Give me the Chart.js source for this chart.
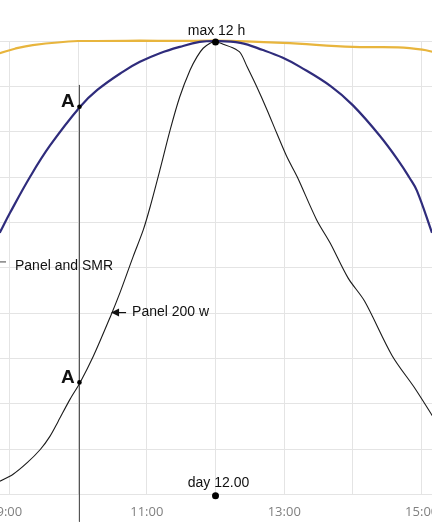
<!DOCTYPE html>
<html>
<head>
<meta charset="utf-8">
<script src="https://cdn.jsdelivr.net/npm/chart.js@4.4.1/dist/chart.umd.min.js"></script>
<style>
  html, body { margin: 0; padding: 0; background: #fff; }
  canvas { display: block; }
</style>
</head>
<body>
<canvas id="sun_chart" width="432" height="530"></canvas>
<script>
// hours of the day (decimal) and relative level
const sunHours = [8.86, 9.08, 9.34, 10.0, 10.9, 11.96, 12.98, 14.0, 14.66, 15.01, 15.19];
const sunLevel = [97.3, 98.3, 99.1, 100, 100.1, 100.1, 99.6, 98.7, 98.6, 98.1, 97.5];

const smrHours = [8.86, 9.01, 9.30, 9.59, 10.03, 10.28, 10.65, 10.90, 11.19, 11.48, 11.77, 11.99, 12.36, 12.69, 12.98, 13.23, 13.68, 14.0, 14.39, 14.68, 14.82, 14.93, 15.15];
const smrLevel = [57.7, 62.1, 70.0, 76.9, 85.5, 89.2, 93.2, 95.4, 97.3, 98.7, 99.8, 100, 99.6, 98.0, 96.3, 94.3, 90.0, 85.8, 79.1, 73.2, 69.9, 67.0, 57.7];

const panelHours = [8.86, 9.05, 9.26, 9.45, 9.59, 9.71, 9.88, 10.03, 10.22, 10.47, 10.61, 10.80, 10.95, 11.05, 11.19, 11.34, 11.48, 11.63, 11.73, 11.82, 11.92, 11.99, 12.11, 12.25, 12.36, 12.46, 12.60, 12.75, 12.89, 13.04, 13.19, 13.47, 13.67, 13.93, 14.17, 14.57, 14.91, 15.19];
const panelLevel = [2.9, 4.4, 7.0, 9.9, 12.8, 16.1, 20.9, 24.7, 30.4, 39.2, 44.5, 52.4, 58.4, 63.5, 71.5, 80.4, 87.7, 93.6, 96.5, 98.4, 99.5, 99.9, 99.3, 98.5, 97.4, 94.3, 89.9, 84.8, 79.7, 74.4, 70.0, 60.6, 55.4, 47.7, 42.6, 30.6, 23.2, 16.5];

// marker A (10:00) and noon marks
const aHour = 10.02;
const aLevels = [85.5, 24.7];
const aLineLevels = [90.3, -6.0];
const noonHours = [12, 12];
const noonLevels = [99.8, -0.3];
const arrowPoint = [10.48, 40.1];

const hourTicks = [9, 10, 11, 12, 13, 14, 15];
const hourLabels = [9, 11, 13, 15];

function pts(xs, ys) {
    return xs.map((v, i) => ({x: v, y: ys[i]}));
}

const notes = {
    id: 'notes',
    afterDatasetsDraw(chart) {
        const ctx = chart.ctx;
        const x = chart.scales.x, y = chart.scales.y;
        ctx.save();
        ctx.fillStyle = '#111';
        ctx.textBaseline = 'alphabetic';

        ctx.font = '14px "Liberation Sans", Arial, sans-serif';
        ctx.textAlign = 'center';
        ctx.fillText('max 12 h', x.getPixelForValue(12) + 1, y.getPixelForValue(100) - 6);
        ctx.fillText('day 12.00', x.getPixelForValue(12) + 3, y.getPixelForValue(0) - 7.5);

        ctx.font = 'bold 19px "Liberation Sans", Arial, sans-serif';
        ctx.fillText('A', x.getPixelForValue(aHour) - 11.5, y.getPixelForValue(aLevels[0]));
        ctx.fillText('A', x.getPixelForValue(aHour) - 11.5, y.getPixelForValue(aLevels[1]) + 1);

        // Panel and SMR label with its short leader
        ctx.font = '14px "Liberation Sans", Arial, sans-serif';
        ctx.textAlign = 'left';
        const ly = y.getPixelForValue(50.5);
        ctx.fillText('Panel and SMR', 15, ly + 5);
        ctx.strokeStyle = '#444';
        ctx.lineWidth = 1;
        ctx.beginPath();
        ctx.moveTo(0, ly - 3.5);
        ctx.lineTo(6, ly - 3.5);
        ctx.stroke();

        // arrow to the panel curve
        const tx = x.getPixelForValue(arrowPoint[0]);
        const ty = y.getPixelForValue(arrowPoint[1]);
        ctx.beginPath();
        ctx.moveTo(tx, ty);
        ctx.lineTo(tx + 8, ty - 4);
        ctx.lineTo(tx + 8, ty + 4);
        ctx.closePath();
        ctx.fill();
        ctx.lineWidth = 1.2;
        ctx.strokeStyle = '#111';
        ctx.beginPath();
        ctx.moveTo(tx + 7, ty);
        ctx.lineTo(tx + 15, ty);
        ctx.stroke();
        ctx.fillText('Panel 200 w', tx + 21, ty + 3);
        ctx.restore();
    }
};

const ctx = document.getElementById('sun_chart');
const theChart = new Chart(ctx, {
    type: 'line',
    data: {
        datasets: [
            {
                label: 'noon',
                data: pts(noonHours, noonLevels),
                showLine: false,
                pointRadius: 3.5,
                pointBackgroundColor: '#000',
                pointBorderWidth: 0,
                clip: false
            },
            {
                label: 'A points',
                data: pts([aHour, aHour], aLevels),
                showLine: false,
                pointRadius: 2.3,
                pointBackgroundColor: '#000',
                pointBorderWidth: 0,
                clip: false
            },
            {
                label: 'A line',
                data: pts([aHour, aHour], aLineLevels),
                borderColor: '#555',
                borderWidth: 1,
                pointRadius: 0,
                clip: false
            },
            {
                label: 'Panel 200 w',
                data: pts(panelHours, panelLevel),
                borderColor: '#1b1b1b',
                borderWidth: 1.1,
                pointRadius: 0,
                tension: 0.3,
                clip: false
            },
            {
                label: 'Panel and SMR',
                data: pts(smrHours, smrLevel),
                borderColor: '#2f2c7c',
                borderWidth: 2.2,
                pointRadius: 0,
                tension: 0.4,
                clip: false
            },
            {
                label: 'sun',
                data: pts(sunHours, sunLevel),
                borderColor: '#e8b53d',
                borderWidth: 2.2,
                pointRadius: 0,
                tension: 0.4,
                clip: false
            }
        ]
    },
    options: {
        responsive: false,
        animation: false,
        layout: { autoPadding: false, padding: { top: 41, bottom: 0, left: 0, right: 0 } },
        plugins: { legend: { display: false }, tooltip: { enabled: false } },
        scales: {
            x: {
                type: 'linear',
                min: 8.864,
                max: 15.15,
                afterBuildTicks: s => { s.ticks = hourTicks.map(v => ({value: v})); },
                afterFit: s => { s.paddingLeft = 0; s.paddingRight = 0; },
                ticks: {
                    autoSkip: false,
                    maxRotation: 0,
                    padding: 10,
                    color: '#808080',
                    font: { family: '"Open Sans"', size: 13 },
                    callback: v => hourLabels.includes(v) ? v + ':00' : ''
                },
                grid: { color: '#e4e4e4', drawTicks: false },
                border: { display: false }
            },
            y: {
                min: 0,
                max: 100,
                ticks: { display: false, stepSize: 10 },
                grid: { color: '#e4e4e4', drawTicks: false },
                border: { display: false }
            }
        }
    },
    plugins: [notes]
});
</script>
</body>
</html>
